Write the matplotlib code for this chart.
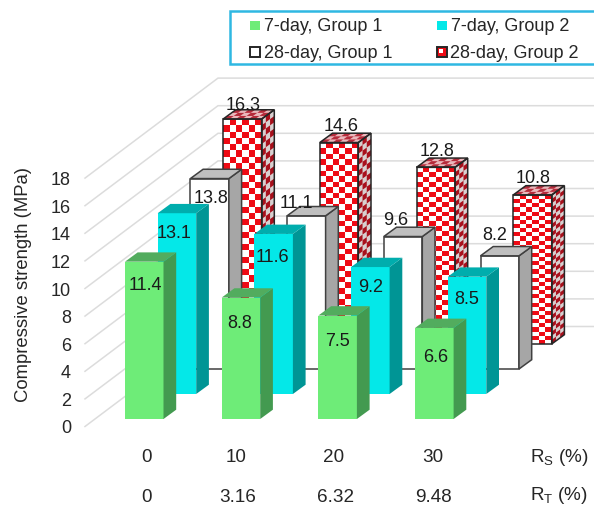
"""
Compressive strength of the mixes at 7 and 28 days, drawn as oblique 3D bars
"""
import matplotlib
matplotlib.use('Agg')
import matplotlib.pyplot as plt
from matplotlib.collections import PolyCollection
from matplotlib.patches import Polygon, Rectangle

# ------------------- Data: ---------------------------------------------------------
rs_labels = ['0', '10', '20', '30']
rt_labels = ['0', '3.16', '6.32', '9.48']
y_ticks = [0, 2, 4, 6, 8, 10, 12, 14, 16, 18]

day7_group1 = [11.4, 8.8, 7.5, 6.6]
day7_group2 = [13.1, 11.6, 9.2, 8.5]
day28_group1 = [13.8, 11.1, 9.6, 8.2]
day28_group2 = [16.3, 14.6, 12.8, 10.8]

# ------------------- Projection of the chart box, in pixels: -----------------------
ORIGIN_X = 125.0
ORIGIN_Y = 420.0
CATEGORY_STEP = 96.7
DEPTH_DX = 32.7
DEPTH_DY = -25.0
BAR_WIDTH = 38.5
SIDE_DX = 12.7
SIDE_DY = -9.3
UNIT = 13.8

WALL_X = 85.0
WALL_Y = 427.5
WALL_DX = 133.0
WALL_DY = -100.0

CHECKER_ROWS = 36


def project(category, depth, value=0.0):
    x = ORIGIN_X + category * CATEGORY_STEP + depth * DEPTH_DX
    y = ORIGIN_Y + depth * DEPTH_DY - value * UNIT
    return x, y


def checker(ax, corners, nx, ny, color, background, zorder):
    # corners: lower left, lower right, upper right, upper left
    (x0, y0), (x1, y1), (x2, y2), (x3, y3) = corners

    def point(u, v):
        bx = x0 + (x1 - x0) * u
        by = y0 + (y1 - y0) * u
        tx = x3 + (x2 - x3) * u
        ty = y3 + (y2 - y3) * u
        return bx + (tx - bx) * v, by + (ty - by) * v

    ax.add_patch(Polygon(corners, closed=True, fc=background, ec='none', zorder=zorder))
    cells = []
    for i in range(nx):
        for j in range(ny):
            if (i + j) % 2 == 0:
                cells.append([point(i / nx, j / ny), point((i + 1) / nx, j / ny),
                              point((i + 1) / nx, (j + 1) / ny), point(i / nx, (j + 1) / ny)])
    ax.add_collection(PolyCollection(cells, facecolors=color, edgecolors='none', zorder=zorder))


def draw_bar(ax, category, depth, value, style):
    x, y0 = project(category, depth)
    _, y1 = project(category, depth, value)
    w = BAR_WIDTH
    dx, dy = SIDE_DX, SIDE_DY
    z = 10 + (3 - depth) * 10 + category

    front = [(x, y0), (x + w, y0), (x + w, y1), (x, y1)]
    side = [(x + w, y0), (x + w + dx, y0 + dy), (x + w + dx, y1 + dy), (x + w, y1)]
    top = [(x, y1), (x + w, y1), (x + w + dx, y1 + dy), (x + dx, y1 + dy)]

    if style.get('checker'):
        checker(ax, front, 6, CHECKER_ROWS, '#ee0a14', 'white', z)
        checker(ax, side, 3, CHECKER_ROWS, '#a8101c', '#d8d0d0', z)
        checker(ax, top, 6, 3, '#b52a3a', '#eab8bc', z)
        fc = ['none', 'none', 'none']
    else:
        fc = [style['front'], style['side'], style['top']]

    for quad, color in zip((front, side, top), fc):
        ax.add_patch(Polygon(quad, closed=True, fc=color, ec=style['edge'],
                             lw=style['lw'], joinstyle='miter', zorder=z + 0.5))


fig = plt.figure(figsize=(5.94, 5.06), dpi=100)
plt.rcParams['font.family'] = ['Liberation Sans', 'DejaVu Sans']
plt.rcParams['mathtext.fontset'] = 'custom'
plt.rcParams['mathtext.rm'] = 'Liberation Sans'
plt.rcParams['mathtext.default'] = 'regular'
ax = fig.add_axes([0, 0, 1, 1])
ax.set_xlim(0, 594)
ax.set_ylim(506, 0)
ax.axis('off')

TEXT = '#262626'
FONT = 13
ROW_FONT = 13.6

# Gridlines: floor edge of the side wall, then the back wall
for tick in y_ticks:
    y = WALL_Y - tick * UNIT
    ax.plot([WALL_X, WALL_X + WALL_DX, 594], [y, y + WALL_DY, y + WALL_DY],
            color='#dcdcdc', lw=1.1, zorder=1, solid_joinstyle='miter')
    ax.text(WALL_X - 14, y + 1.5, str(tick), ha='right', va='center', fontsize=FONT, color=TEXT)

ax.text(23.5, 285, 'Compressive strength (MPa)', rotation=90, ha='center', va='center',
        fontsize=13.3, color=TEXT)

# ------------------- Bars, back row first: -----------------------------------------
series = [
    (3, day28_group2, {'checker': True, 'edge': '#262626', 'lw': 1.1}),
    (2, day28_group1, {'front': 'white', 'side': '#a6a6a6', 'top': '#bfbfbf', 'edge': '#404040', 'lw': 1.1}),
    (1, day7_group2, {'front': '#04e8e8', 'side': '#009595', 'top': '#00adad', 'edge': 'none', 'lw': 0}),
    (0, day7_group1, {'front': '#6eec78', 'side': '#439a50', 'top': '#52ac5e', 'edge': 'none', 'lw': 0}),
]
for depth, values, style in series:
    for category, value in enumerate(values):
        draw_bar(ax, category, depth, value, style)

# Label offsets from the front top edge of each bar: (dx from bar centre, dy)
label_offsets = {
    3: [(1, -16), (2, -18), (1, -18), (1, -18)],
    2: [(1, 18), (-10, -14), (-7, -18), (-5, -22)],
    1: [(-3, 18), (-1, 22), (0, 18), (0, 21)],
    0: [(1, 22), (-1, 24), (0, 24), (1, 28)],
}
for depth, values, style in series:
    for category, value in enumerate(values):
        x, y = project(category, depth, value)
        dx, dy = label_offsets[depth][category]
        ax.text(x + BAR_WIDTH / 2 + dx, y + dy + 1, '{:.1f}'.format(value), ha='center', va='center',
                fontsize=FONT, color='#1a1a1a', zorder=100)

# ------------------- Category rows: ------------------------------------------------
rs_x = [146.7, 236, 334, 432.7]
rt_x = [146.7, 237.7, 336, 434]
for x, label in zip(rs_x, rs_labels):
    ax.text(x, 457.5, label, ha='center', va='center', fontsize=ROW_FONT, color=TEXT)
for x, label in zip(rt_x, rt_labels):
    ax.text(x, 498, label, ha='center', va='center', fontsize=ROW_FONT, color=TEXT)
ax.text(530.5, 462.5, r'R$_{S}$ (%)', ha='left', va='baseline', fontsize=ROW_FONT, color=TEXT)
ax.text(530.5, 500.5, r'R$_{T}$ (%)', ha='left', va='baseline', fontsize=ROW_FONT, color=TEXT)

# ------------------- Legend box: ---------------------------------------------------
ax.add_patch(Rectangle((230, 12), 368, 53, fc='white', ec='#2fb8e2', lw=1.8, zorder=200))
legend_entries = [
    ('7-day, Group 1', 250, 26.5, {'fc': '#6eec78', 'ec': 'none'}, 264.5),
    ('7-day, Group 2', 437, 26.5, {'fc': '#04e8e8', 'ec': 'none'}, 451),
    ('28-day, Group 1', 250, 53, {'fc': 'white', 'ec': '#262626', 'lw': 1.4}, 263.5),
    ('28-day, Group 2', 437, 53, {'fc': '#ee0a14', 'ec': '#262626', 'lw': 1.4}, 450.5),
]
for label, x, y, patch_style, text_x in legend_entries:
    ax.add_patch(Rectangle((x, y - 5), 9.5, 9.5, zorder=201, **patch_style))
    ax.text(text_x, y, label, ha='left', va='center', fontsize=FONT, color=TEXT, zorder=201)
ax.add_patch(Rectangle((439, 50), 3.5, 4, fc='white', ec='none', zorder=202))

fig.savefig('out.png', dpi=100)
